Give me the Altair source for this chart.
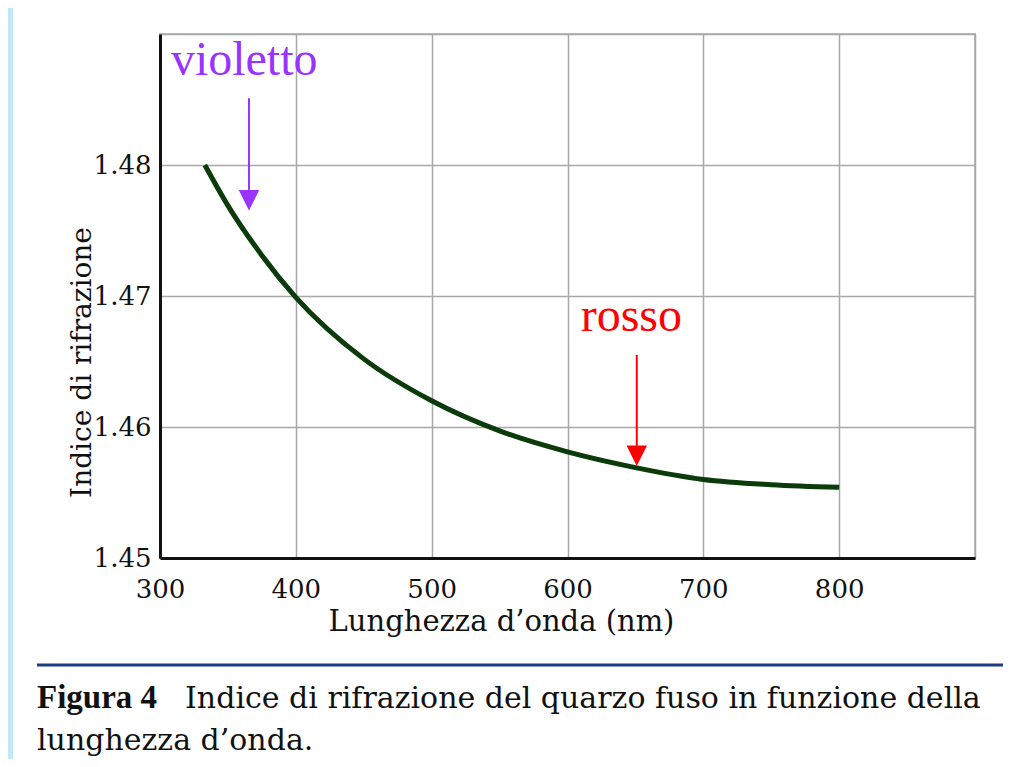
import altair as alt
import pandas as pd

# --- data ---
wavelength = [333, 350, 375, 400, 450, 500, 550, 600, 650, 700, 750, 800]
refr_index = [1.4800, 1.4769, 1.4731, 1.4699, 1.4652, 1.4620, 1.4597, 1.4581, 1.4569, 1.4560, 1.4556, 1.4554]

x_ticks = [300, 400, 500, 600, 700, 800, 900]
y_ticks = [1.45, 1.46, 1.47, 1.48, 1.49]

ann_labels = ["violetto", "rosso"]
ann_colors = ["#9933ff", "#ff0000"]
ann_text_x = [362, 647]
ann_text_y = [1.4869, 1.4673]
arrow_x = [365.5, 651]
arrow_top = [1.4851, 1.4655]
arrow_base = [1.4781, 1.45855]
arrow_head_mid = [1.4773, 1.4578]

caption_bold = "Figura 4"
caption_line1 = "Indice di rifrazione del quarzo fuso in funzione della"
caption_line2 = "lunghezza d\u2019onda."

W, H = 815, 524
BOOK_FONT = "DejaVu Serif"

curve_df = pd.DataFrame({"wl": wavelength, "n": refr_index})
ann_df = pd.DataFrame({
    "label": ann_labels, "color": ann_colors,
    "tx": ann_text_x, "ty": ann_text_y,
    "ax": arrow_x, "atop": arrow_top, "abase": arrow_base, "amid": arrow_head_mid,
})
one = pd.DataFrame({"a": [0]})

xscale = alt.Scale(domain=[300, 900], nice=False, zero=False)
yscale = alt.Scale(domain=[1.45, 1.49], nice=False, zero=False)

x_axis = alt.Axis(
    values=x_ticks, labelExpr="datum.value >= 900 ? '' : datum.label",
    labelFlush=False, labelOverlap=False,
    title="Lunghezza d\u2019onda (nm)", titleX=341, titleY=72, titleBaseline="alphabetic",
    titleAlign="center", titleAnchor="start",
    labelFont=BOOK_FONT, labelFontSize=26, labelColor="#111", labelPadding=18,
    titleFont=BOOK_FONT, titleFontSize=29, titleFontWeight="normal", titleColor="#111",
    ticks=False, grid=True, gridColor="#a8a8a8", gridWidth=1.5,
    domainColor="#111", domainWidth=3,
)
y_axis = alt.Axis(
    values=y_ticks, format=".2f", labelExpr="datum.value >= 1.485 ? '' : datum.label",
    labelFlush=False, labelOverlap=False,
    title="Indice di rifrazione", titleX=-70, titleY=328, titleBaseline="alphabetic",
    titleAlign="center", titleAnchor="start", titleAngle=270,
    labelFont=BOOK_FONT, labelFontSize=26, labelColor="#111", labelPadding=9,
    titleFont=BOOK_FONT, titleFontSize=28, titleFontWeight="normal", titleColor="#111",
    ticks=False, grid=True, gridColor="#a8a8a8", gridWidth=1.5,
    domainColor="#111", domainWidth=3,
)

curve = alt.Chart(curve_df).mark_line(
    color="#0b3a0b", strokeWidth=5, interpolate="monotone", strokeCap="butt"
).encode(
    x=alt.X("wl:Q", scale=xscale, axis=x_axis),
    y=alt.Y("n:Q", scale=yscale, axis=y_axis),
)

ann_text = alt.Chart(ann_df).mark_text(
    font="Liberation Serif", fontSize=48, baseline="alphabetic", align="center"
).encode(
    x=alt.X("tx:Q", scale=xscale), y=alt.Y("ty:Q", scale=yscale),
    text="label:N", color=alt.Color("color:N", scale=None),
)
ann_rule = alt.Chart(ann_df).mark_rule(strokeWidth=2).encode(
    x=alt.X("ax:Q", scale=xscale), y=alt.Y("atop:Q", scale=yscale), y2="abase:Q",
    color=alt.Color("color:N", scale=None),
)
ann_head = alt.Chart(ann_df).mark_point(
    shape="M-1,-1L1,-1L0,1Z", filled=True, size=420, opacity=1, strokeWidth=0
).encode(
    x=alt.X("ax:Q", scale=xscale), y=alt.Y("amid:Q", scale=yscale),
    color=alt.Color("color:N", scale=None),
)

# light-blue strip of the slide border on the left
border = alt.Chart(one).mark_rect(color="#c2e8f8").encode(
    x=alt.value(-152), x2=alt.value(-147), y=alt.value(-30), y2=alt.value(730)
)
sep_rule = alt.Chart(one).mark_rule(color="#1d3d82", strokeWidth=3).encode(
    x=alt.value(-123), x2=alt.value(845), y=alt.value(631)
)
cap_bold = alt.Chart(one).mark_text(
    text=caption_bold, font="Liberation Serif", fontSize=33, fontWeight="bold",
    align="left", baseline="alphabetic", color="#111"
).encode(x=alt.value(-123), y=alt.value(674))
cap_l1 = alt.Chart(one).mark_text(
    text=caption_line1, font=BOOK_FONT, fontSize=30,
    align="left", baseline="alphabetic", color="#111"
).encode(x=alt.value(25), y=alt.value(674))
cap_l2 = alt.Chart(one).mark_text(
    text=caption_line2, font=BOOK_FONT, fontSize=30,
    align="left", baseline="alphabetic", color="#111"
).encode(x=alt.value(-123), y=alt.value(716))

chart = alt.layer(
    border, curve, ann_rule, ann_head, ann_text, sep_rule, cap_bold, cap_l1, cap_l2
).properties(
    width=W, height=H,
    padding={"left": 152, "top": 26, "right": 28, "bottom": 201},
    autosize=alt.AutoSizeParams(type="none"),
    background="white",
).configure_view(
    stroke="#a8a8a8", strokeWidth=1.5
)

chart.save("out.html", embed_options={"renderer": "svg", "actions": False})
